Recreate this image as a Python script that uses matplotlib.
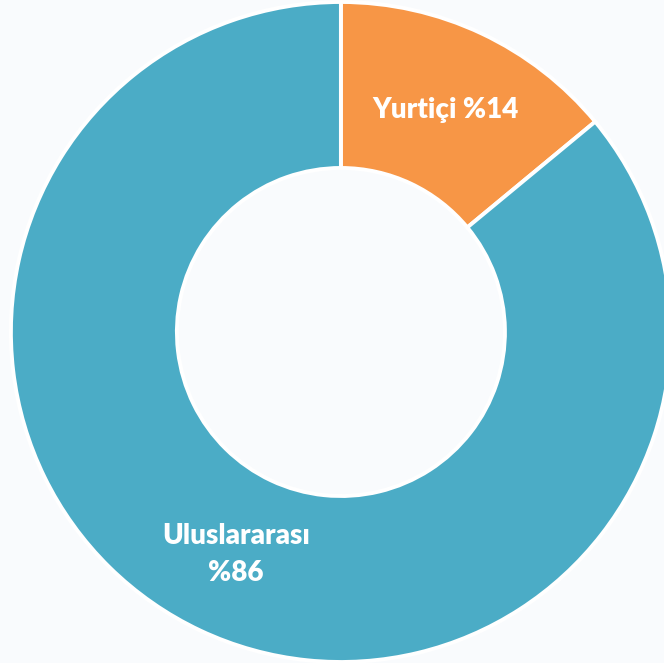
import matplotlib
matplotlib.use('Agg')
import matplotlib.pyplot as plt

# data
labels = ['Yurtiçi %14', 'Uluslararası\n%86']
shares = [14, 86]
colors = ['#F79646', '#4BACC6']

plt.rcParams['font.family'] = ['Lato', 'DejaVu Sans']

fig = plt.figure(figsize=(6.64, 6.63), dpi=100)
fig.patch.set_facecolor('#f9fbfd')
ax = fig.add_axes([0, 0, 1, 1])
ax.set_facecolor('#f9fbfd')

wedges, texts = ax.pie(shares, labels=labels, colors=colors,
                       startangle=90, counterclock=False,
                       labeldistance=0.745,
                       wedgeprops=dict(width=0.503, edgecolor='white', linewidth=2.8))

for t in texts:
    t.set_ha('center')
    t.set_va('center')
    t.set_multialignment('center')
    t.set_color('white')
    t.set_fontweight('heavy')
    t.set_fontsize(20)
    t.set_linespacing(1.55)

# pie is cropped on the right like the original slide
ax.set_xlim(-1.033, 0.979)
ax.set_ylim(-1.003, 1.006)
ax.set_aspect('equal')
ax.axis('off')

fig.savefig('out.png', dpi=100, facecolor=fig.get_facecolor())
